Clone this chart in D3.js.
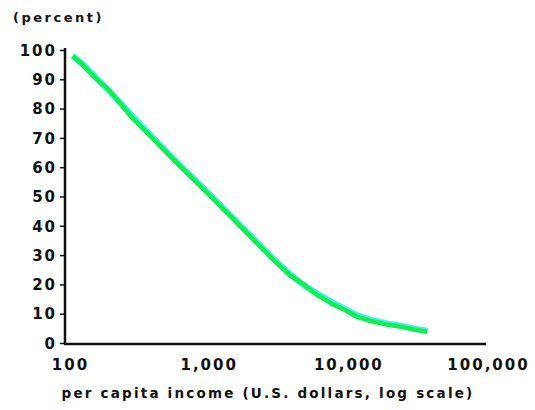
<!DOCTYPE html>
<html>
<head>
<meta charset="utf-8">
<script src="https://cdn.jsdelivr.net/npm/d3@7"></script>
<style>
body { margin: 0; background: #fff; }
svg { display: block; }
text { font-family: "DejaVu Sans", sans-serif; font-weight: bold; fill: #111; }
</style>
</head>
<body>
<svg id="chart" width="535" height="410"></svg>
<script>
const incomes = [110, 130, 160, 200, 250, 300, 400, 600, 1000, 1500, 2000, 3000, 4000, 5000, 6000, 8000, 10000, 12000, 15000, 20000, 25000, 30000, 38000];
const cyanValues = [98, 95.2, 90.8, 86, 81.2, 77, 70.8, 62.2, 51.8, 43.3, 37.3, 28.8, 23.3, 19.6, 17.3, 13.8, 11.4, 9.4, 7.9, 6.6, 5.8, 5.0, 4.2];
const greenValues = [98, 94.8, 90.3, 86.3, 80.8, 76.3, 70.4, 61.8, 51.4, 43, 36.9, 28.4, 22.9, 19.8, 16.8, 13.2, 11.0, 8.9, 7.5, 6.2, 5.5, 4.7, 3.8];
const yTicks = [0, 10, 20, 30, 40, 50, 60, 70, 80, 90, 100];
const xTicks = [100, 1000, 10000, 100000];
const xTickLabels = ["100", "1,000", "10,000", "100,000"];
const yTitle = "(percent)";
const xTitle = "per capita income (U.S. dollars, log scale)";

const svg = d3.select("#chart");
const x = d3.scaleLog().domain([100, 100000]).range([67, 486]);
const y = d3.scaleLinear().domain([0, 100]).range([343, 50]);

// y axis
const yAxis = d3.axisLeft(y).tickValues(yTicks).tickSize(5).tickPadding(3).tickFormat(d3.format("d"));
const gy = svg.append("g").attr("transform", "translate(65,0)").call(yAxis);
gy.select(".domain").attr("stroke", "#111").attr("stroke-width", 2.5).attr("d", `M0,${y(100)-2}V${y(0)+1}`);
gy.selectAll(".tick line").attr("stroke", "#111").attr("stroke-width", 1.5);
gy.selectAll(".tick text").style("font-size", "15px").style("letter-spacing", "2px").attr("dy", "0.35em");

// x axis
const xAxis = d3.axisBottom(x).tickValues(xTicks).tickSize(0).tickPadding(15)
  .tickFormat((d, i) => xTickLabels[i]);
const gx = svg.append("g").attr("transform", "translate(0,344)").call(xAxis);
gx.select(".domain").attr("stroke", "#111").attr("stroke-width", 2.5).attr("d", "M64,0H486");
gx.selectAll(".tick text").style("font-size", "15px").style("letter-spacing", "2px").attr("dx", (d, i) => i === 0 ? "3px" : "2px");

// titles
svg.append("text").attr("x", 13).attr("y", 22).style("font-size", "13px").style("letter-spacing", "2.5px").text(yTitle);
svg.append("text").attr("x", 268).attr("y", 398).attr("text-anchor", "middle").style("font-size", "13.5px").style("letter-spacing", "2.2px").text(xTitle);

// lines
const lineC = d3.line().x((d, i) => x(incomes[i])).y(d => y(d));
svg.append("path").datum(cyanValues).attr("d", lineC)
  .attr("fill", "none").attr("stroke", "#40f0f0").attr("stroke-width", 6).attr("stroke-linejoin", "round");
svg.append("path").datum(greenValues).attr("d", lineC)
  .attr("fill", "none").attr("stroke", "#10ee50").attr("stroke-width", 4.5).attr("stroke-linejoin", "round");
</script>
</body>
</html>
